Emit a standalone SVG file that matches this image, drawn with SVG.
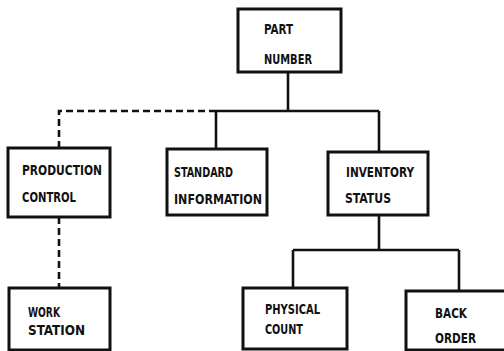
<svg xmlns="http://www.w3.org/2000/svg" width="504" height="351" viewBox="0 0 504 351">
<style>
.box{fill:#fff;stroke:#111;stroke-width:3}
.ln{fill:none;stroke:#111;stroke-width:2.6}
.dash{fill:none;stroke:#111;stroke-width:2.6;stroke-dasharray:7,4}
text{font-family:"DejaVu Sans Condensed","DejaVu Sans",sans-serif;font-weight:bold;font-size:14.5px;fill:#111}
</style>
<rect width="504" height="351" fill="#fff"/>
<g id="connectors">
<path class="ln" d="M288 72V111M216 111H379M216 111V149M379 111V152M379 215V250M293 250H459M293 250V288M459 250V291"/>
<path class="dash" d="M216 111H59V148M59 217V288"/>
</g>
<g id="part-number">
<rect class="box" x="238" y="9" width="103" height="63"/>
<text x="264" y="34" textLength="29" lengthAdjust="spacingAndGlyphs">PART</text>
<text x="264" y="64" textLength="48" lengthAdjust="spacingAndGlyphs">NUMBER</text>
</g>
<g id="production-control">
<rect class="box" x="8" y="148" width="102" height="69"/>
<text x="22" y="175" textLength="80" lengthAdjust="spacingAndGlyphs">PRODUCTION</text>
<text x="22" y="202" textLength="54" lengthAdjust="spacingAndGlyphs">CONTROL</text>
</g>
<g id="standard-information">
<rect class="box" x="167" y="149" width="100" height="66"/>
<text x="174" y="177" textLength="59" lengthAdjust="spacingAndGlyphs">STANDARD</text>
<text x="174" y="204" textLength="88" lengthAdjust="spacingAndGlyphs">INFORMATION</text>
</g>
<g id="inventory-status">
<rect class="box" x="328" y="152" width="100" height="63"/>
<text x="346" y="177" textLength="68" lengthAdjust="spacingAndGlyphs">INVENTORY</text>
<text x="345" y="203" textLength="46" lengthAdjust="spacingAndGlyphs">STATUS</text>
</g>
<g id="work-station">
<rect class="box" x="9" y="288" width="101" height="62"/>
<text x="28" y="317" textLength="32" lengthAdjust="spacingAndGlyphs">WORK</text>
<text x="28" y="335" textLength="57" lengthAdjust="spacingAndGlyphs">STATION</text>
</g>
<g id="physical-count">
<rect class="box" x="243" y="288" width="104" height="61"/>
<text x="265" y="314" textLength="55" lengthAdjust="spacingAndGlyphs">PHYSICAL</text>
<text x="265" y="334" textLength="38" lengthAdjust="spacingAndGlyphs">COUNT</text>
</g>
<g id="back-order">
<rect class="box" x="406" y="291" width="104" height="59"/>
<text x="435" y="318" textLength="32" lengthAdjust="spacingAndGlyphs">BACK</text>
<text x="435" y="343" textLength="41" lengthAdjust="spacingAndGlyphs">ORDER</text>
</g>
</svg>
